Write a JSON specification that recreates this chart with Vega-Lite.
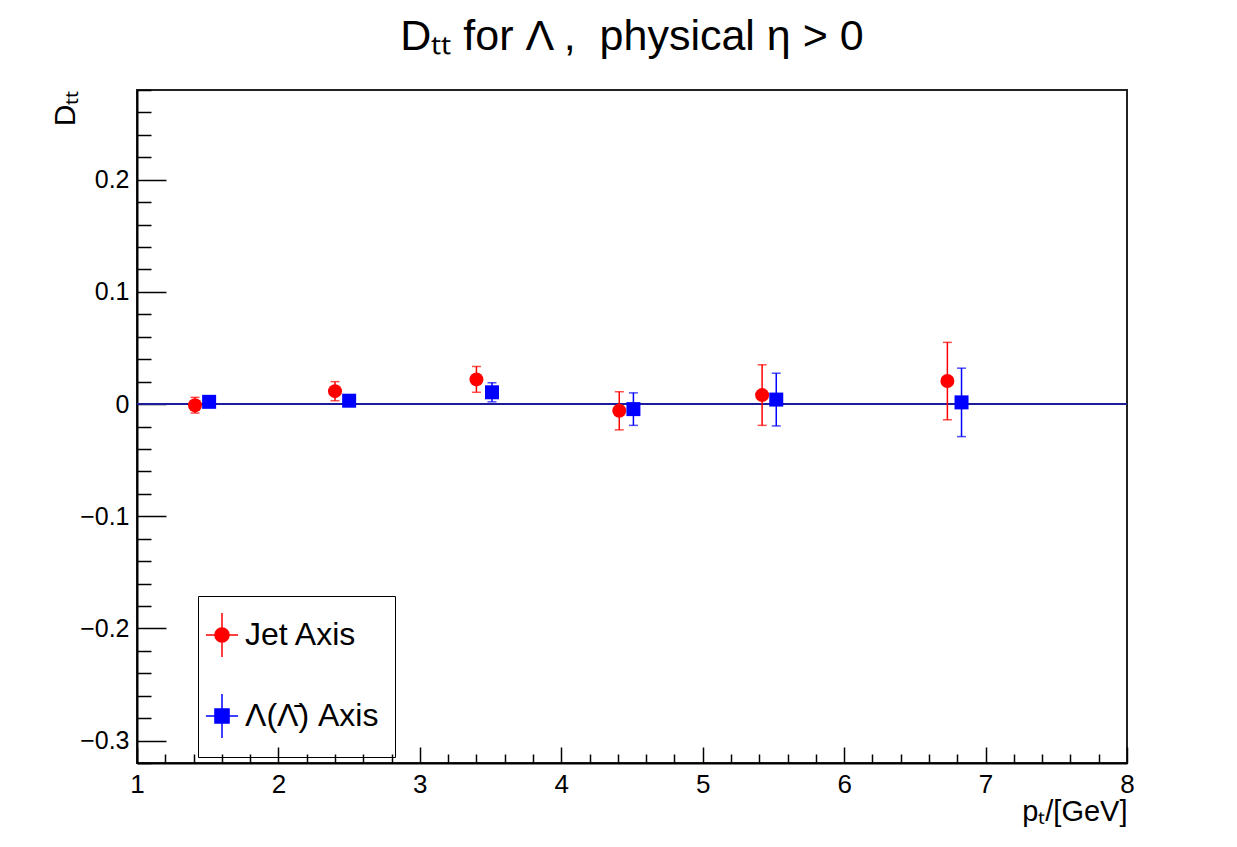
{
  "$schema": "https://vega.github.io/schema/vega-lite/v6.json",
  "width": 990,
  "height": 673,
  "autosize": {"type": "none"},
  "padding": {"left": 137, "top": 90, "right": 110, "bottom": 84},
  "background": "white",
  "title": {"text": "Dₜₜ for Λ ,\u00a0\u00a0physical η > 0", "fontSize": 43, "font": "Liberation Sans", "fontWeight": "normal", "anchor": "middle", "offset": 30, "color": "black"},
  "config": {
    "view": {"stroke": "#222222", "strokeWidth": 2},
    "font": "Liberation Sans",
    "legend": {"symbolOpacity": 1},
    "axis": {"grid": false, "domainColor": "black", "tickColor": "black", "domainWidth": 2, "tickWidth": 1.5, "labelColor": "black", "labelFontSize": 25, "titleColor": "black", "titleFontWeight": "normal", "labelFont": "Liberation Sans", "titleFont": "Liberation Sans"}
  },
  "data": {"values": [
    {"series": "Jet Axis", "pt": 1.41, "d": -0.001, "err": 0.007},
    {"series": "Jet Axis", "pt": 2.40, "d": 0.0115, "err": 0.0085},
    {"series": "Jet Axis", "pt": 3.40, "d": 0.022, "err": 0.0115},
    {"series": "Jet Axis", "pt": 4.41, "d": -0.006, "err": 0.017},
    {"series": "Jet Axis", "pt": 5.42, "d": 0.008, "err": 0.027},
    {"series": "Jet Axis", "pt": 6.73, "d": 0.0205, "err": 0.0345},
    {"series": "Λ(Λ̄) Axis", "pt": 1.51, "d": 0.002, "err": 0.004},
    {"series": "Λ(Λ̄) Axis", "pt": 2.50, "d": 0.003, "err": 0.004},
    {"series": "Λ(Λ̄) Axis", "pt": 3.51, "d": 0.0105, "err": 0.0085},
    {"series": "Λ(Λ̄) Axis", "pt": 4.51, "d": -0.0045, "err": 0.0145},
    {"series": "Λ(Λ̄) Axis", "pt": 5.52, "d": 0.004, "err": 0.0235},
    {"series": "Λ(Λ̄) Axis", "pt": 6.83, "d": 0.0015, "err": 0.0305}
  ]},
  "layer": [
    {
      "mark": {"type": "rule", "color": "#1c1c9c", "strokeWidth": 2},
      "encoding": {"y": {"datum": 0, "type": "quantitative", "axis": null}}
    },
    {
      "mark": {"type": "errorbar", "ticks": {"size": 9, "thickness": 1.5}, "thickness": 1.5},
      "encoding": {
        "x": {"field": "pt", "type": "quantitative", "scale": {"domain": [1, 8], "nice": false, "zero": false},
          "axis": {"orient": "bottom", "values": [1.2,1.4,1.6,1.8,2.2,2.4,2.6,2.8,3.2,3.4,3.6,3.8,4.2,4.4,4.6,4.8,5.2,5.4,5.6,5.8,6.2,6.4,6.6,6.8,7.2,7.4,7.6,7.8], "labels": false, "domain": false, "tickSize": -9, "title": null}},
        "y": {"field": "d", "type": "quantitative", "scale": {"domain": [-0.32, 0.28], "nice": false, "zero": false},
          "axis": {"orient": "left", "values": [-0.32,-0.28,-0.26,-0.24,-0.22,-0.18,-0.16,-0.14,-0.12,-0.08,-0.06,-0.04,-0.02,0.02,0.04,0.06,0.08,0.12,0.14,0.16,0.18,0.22,0.24,0.26,0.28], "labels": false, "domain": false, "tickSize": -14, "title": null}},
        "yError": {"field": "err"},
        "color": {"field": "series", "type": "nominal", "scale": {"domain": ["Jet Axis", "Λ(Λ̄) Axis"], "range": ["#ff0000", "#0000ff"]}}
      }
    },
    {
      "transform": [{"filter": "datum.series === 'Jet Axis'"}],
      "mark": {"type": "circle", "size": 196, "opacity": 1},
      "encoding": {
        "x": {"field": "pt", "type": "quantitative",
          "axis": {"orient": "bottom", "values": [1,2,3,4,5,6,7,8], "format": "d", "tickSize": -16, "labelPadding": 24, "labelFontSize": 26, "labelFlush": false,
            "title": "pₜ/[GeV]", "titleFontSize": 29, "titleAnchor": "end", "titleAlign": "right", "titleX": 990, "titleY": 57, "titleBaseline": "alphabetic"}},
        "y": {"field": "d", "type": "quantitative",
          "axis": {"orient": "left", "values": [-0.3,-0.2,-0.1,0,0.1,0.2], "format": "~g", "tickSize": -29, "labelPadding": 37,
            "title": "Dₜₜ", "titleFontSize": 30, "titleAngle": 270, "titleAlign": "right", "titleBaseline": "middle", "titleX": -72, "titleY": 0}},
        "color": {"field": "series", "type": "nominal",
          "legend": {"orient": "none", "legendX": 61, "legendY": 506, "title": null, "strokeColor": "black", "padding": 16, "labelFontSize": 32, "labelColor": "black", "labelFont": "Liberation Sans", "symbolSize": 1936, "rowPadding": 31, "symbolOffset": -15, "labelOffset": 0, "labelLimit": 400, "symbolStrokeWidth": 1.5, "symbolOpacity": 1,
            "symbolType": {"expr": "datum.value === 'Jet Axis' ? 'M-0.73,0H0.73M0,-1V1M-0.32,0A0.32,0.32,0,1,1,0.32,0A0.32,0.32,0,1,1,-0.32,0Z' : 'M-0.73,0H0.73M0,-1V1M-0.32,-0.32H0.32V0.32H-0.32Z'"},
            "symbolStrokeColor": {"expr": "datum.value === 'Jet Axis' ? '#ff0000' : '#0000ff'"},
            "encode": {"symbols": {"update": {"opacity": {"value": 1}, "fillOpacity": {"value": 1}, "strokeOpacity": {"value": 1}}}}}}
      }
    },
    {
      "transform": [{"filter": "datum.series !== 'Jet Axis'"}],
      "mark": {"type": "square", "size": 196, "opacity": 1},
      "encoding": {
        "x": {"field": "pt", "type": "quantitative", "axis": null},
        "y": {"field": "d", "type": "quantitative", "axis": null},
        "color": {"field": "series", "type": "nominal"}
      }
    }
  ],
  "resolve": {"axis": {"x": "independent", "y": "independent"}}
}
